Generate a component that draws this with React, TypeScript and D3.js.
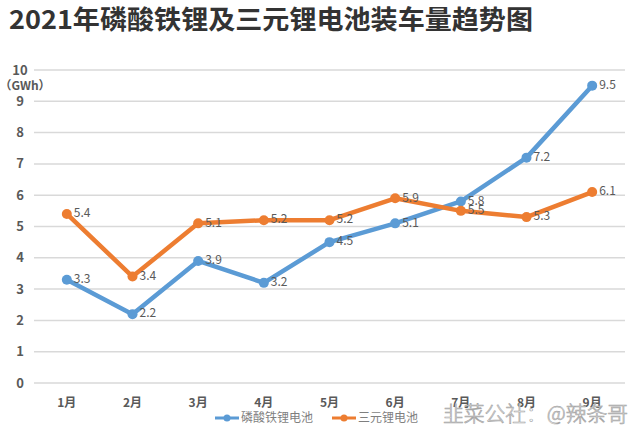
import React from "react";
import * as d3 from "d3";

const months = ["1月", "2月", "3月", "4月", "5月", "6月", "7月", "8月", "9月"];
const lfpValues = [3.3, 2.2, 3.9, 3.2, 4.5, 5.1, 5.8, 7.2, 9.5];
const nmcValues = [5.4, 3.4, 5.1, 5.2, 5.2, 5.9, 5.5, 5.3, 6.1];
const yTicks = [0, 1, 2, 3, 4, 5, 6, 7, 8, 9, 10];
const seriesNames = ["磷酸铁锂电池", "三元锂电池"];
const title = "2021年磷酸铁锂及三元锂电池装车量趋势图";
const unitLabel = "（GWh）";
const watermark = "韭菜公社：@辣条哥";

const W = 640;
const H = 439;
const BLUE = "#5B9BD5";
const ORANGE = "#ED7D31";
const GRAY = "#595959";
const FONT = "'Noto Sans CJK SC', 'Noto Sans', sans-serif";

export default function App() {
  const x = d3.scalePoint<string>().domain(months).range([34, 625]).padding(0.5);
  const y = d3.scaleLinear().domain([0, 10]).range([383, 70]);
  const line = d3
    .line<number>()
    .x((_, i) => x(months[i]) as number)
    .y((d) => y(d));

  const series = [
    { name: seriesNames[0], values: lfpValues, color: BLUE },
    { name: seriesNames[1], values: nmcValues, color: ORANGE },
  ];

  return (
    <svg
      width={W}
      height={H}
      style={{ position: "absolute", left: 0, top: 0, background: "#fff" }}
      fontFamily={FONT}
    >
      <rect x={0} y={0} width={W} height={H} fill="#fff" />
      <text x={9} y={29} fontSize={26} fontWeight={700} fill="#333333" textLength={524} lengthAdjust="spacingAndGlyphs">
        {title}
      </text>
      {yTicks.map((t) => (
        <g key={t}>
          <line x1={34} x2={625} y1={y(t)} y2={y(t)} stroke="#d9d9d9" strokeWidth={1.5} />
          <text x={20} y={y(t)} dy="0.35em" textAnchor="middle" fontSize={13} fontWeight={700} fill={GRAY}>
            {t}
          </text>
        </g>
      ))}
      <text x={25} y={86} dy="0.35em" textAnchor="middle" fontSize={12} fontWeight={700} fill={GRAY}>
        {unitLabel}
      </text>
      {months.map((m) => (
        <text key={m} x={x(m) as number} y={403} dy="0.35em" textAnchor="middle" fontSize={12} fontWeight={700} fill={GRAY}>
          {m}
        </text>
      ))}
      {series.map((s) => (
        <g key={s.name}>
          <path d={line(s.values) as string} fill="none" stroke={s.color} strokeWidth={4.5} strokeLinejoin="round" strokeLinecap="round" />
          {s.values.map((v, i) => (
            <circle key={i} cx={x(months[i]) as number} cy={y(v)} r={5} fill={s.color} />
          ))}
          {s.values.map((v, i) => (
            <text key={"l" + i} x={(x(months[i]) as number) + 7} y={y(v) - 1} dy="0.35em" fontSize={12} fill={GRAY}>
              {v.toFixed(1)}
            </text>
          ))}
        </g>
      ))}
      {/* legend */}
      <g>
        <line x1={215} x2={239} y1={418} y2={418} stroke={BLUE} strokeWidth={3} />
        <circle cx={227} cy={418} r={3.5} fill={BLUE} />
        <text x={241} y={418} dy="0.35em" fontSize={12} fill="#7f7f7f">
          {seriesNames[0]}
        </text>
        <line x1={332} x2={356} y1={418} y2={418} stroke={ORANGE} strokeWidth={3} />
        <circle cx={344} cy={418} r={3.5} fill={ORANGE} />
        <text x={358} y={418} dy="0.35em" fontSize={12} fill="#7f7f7f">
          {seriesNames[1]}
        </text>
      </g>
      <text
        x={443}
        y={414}
        dy="0.35em"
        fontSize={21}
        fontWeight={300}
        fill="#ffffff"
        stroke="#a6a6a6"
        strokeWidth={0.7}
        textLength={185}
        lengthAdjust="spacingAndGlyphs"
      >
        {watermark}
      </text>
    </svg>
  );
}
